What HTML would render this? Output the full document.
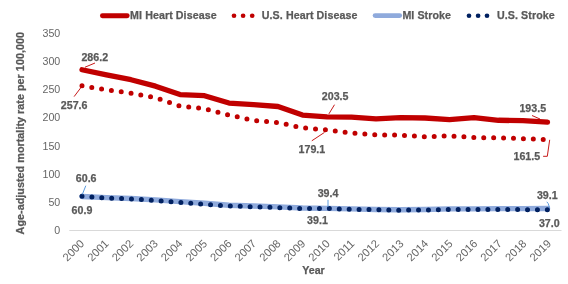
<!DOCTYPE html><html><head><meta charset="utf-8"><style>
html,body{margin:0;padding:0;background:#fff;width:568px;height:284px;overflow:hidden}
svg{display:block;font-family:"Liberation Sans",sans-serif;filter:blur(0.3px)}
text[font-weight="bold"]{stroke:#595959;stroke-width:0.25px}
</style></head><body>
<svg width="568" height="284" viewBox="0 0 568 284">
<rect width="568" height="284" fill="#fff"/>
<line x1="69.3" y1="230.5" x2="561.5" y2="230.5" stroke="#D9D9D9" stroke-width="1"/>
<text x="60.3" y="233.80" font-size="10.67" fill="#666666" text-anchor="end">0</text>
<text x="60.3" y="205.72" font-size="10.67" fill="#666666" text-anchor="end">50</text>
<text x="60.3" y="177.64" font-size="10.67" fill="#666666" text-anchor="end">100</text>
<text x="60.3" y="149.56" font-size="10.67" fill="#666666" text-anchor="end">150</text>
<text x="60.3" y="121.48" font-size="10.67" fill="#666666" text-anchor="end">200</text>
<text x="60.3" y="93.40" font-size="10.67" fill="#666666" text-anchor="end">250</text>
<text x="60.3" y="65.32" font-size="10.67" fill="#666666" text-anchor="end">300</text>
<text x="60.3" y="37.24" font-size="10.67" fill="#666666" text-anchor="end">350</text>
<text x="0" y="0" font-size="11.2" fill="#666666" text-anchor="end" transform="translate(84.90,244.30) rotate(-45)">2000</text>
<text x="0" y="0" font-size="11.2" fill="#666666" text-anchor="end" transform="translate(109.48,244.30) rotate(-45)">2001</text>
<text x="0" y="0" font-size="11.2" fill="#666666" text-anchor="end" transform="translate(134.05,244.30) rotate(-45)">2002</text>
<text x="0" y="0" font-size="11.2" fill="#666666" text-anchor="end" transform="translate(158.62,244.30) rotate(-45)">2003</text>
<text x="0" y="0" font-size="11.2" fill="#666666" text-anchor="end" transform="translate(183.20,244.30) rotate(-45)">2004</text>
<text x="0" y="0" font-size="11.2" fill="#666666" text-anchor="end" transform="translate(207.78,244.30) rotate(-45)">2005</text>
<text x="0" y="0" font-size="11.2" fill="#666666" text-anchor="end" transform="translate(232.35,244.30) rotate(-45)">2006</text>
<text x="0" y="0" font-size="11.2" fill="#666666" text-anchor="end" transform="translate(256.92,244.30) rotate(-45)">2007</text>
<text x="0" y="0" font-size="11.2" fill="#666666" text-anchor="end" transform="translate(281.50,244.30) rotate(-45)">2008</text>
<text x="0" y="0" font-size="11.2" fill="#666666" text-anchor="end" transform="translate(306.07,244.30) rotate(-45)">2009</text>
<text x="0" y="0" font-size="11.2" fill="#666666" text-anchor="end" transform="translate(330.65,244.30) rotate(-45)">2010</text>
<text x="0" y="0" font-size="11.2" fill="#666666" text-anchor="end" transform="translate(355.22,244.30) rotate(-45)">2011</text>
<text x="0" y="0" font-size="11.2" fill="#666666" text-anchor="end" transform="translate(379.80,244.30) rotate(-45)">2012</text>
<text x="0" y="0" font-size="11.2" fill="#666666" text-anchor="end" transform="translate(404.38,244.30) rotate(-45)">2013</text>
<text x="0" y="0" font-size="11.2" fill="#666666" text-anchor="end" transform="translate(428.95,244.30) rotate(-45)">2014</text>
<text x="0" y="0" font-size="11.2" fill="#666666" text-anchor="end" transform="translate(453.52,244.30) rotate(-45)">2015</text>
<text x="0" y="0" font-size="11.2" fill="#666666" text-anchor="end" transform="translate(478.10,244.30) rotate(-45)">2016</text>
<text x="0" y="0" font-size="11.2" fill="#666666" text-anchor="end" transform="translate(502.67,244.30) rotate(-45)">2017</text>
<text x="0" y="0" font-size="11.2" fill="#666666" text-anchor="end" transform="translate(527.25,244.30) rotate(-45)">2018</text>
<text x="0" y="0" font-size="11.2" fill="#666666" text-anchor="end" transform="translate(551.82,244.30) rotate(-45)">2019</text>
<text x="0" y="0" font-size="10.85" font-weight="bold" fill="#595959" text-anchor="middle" transform="translate(24.4,133.2) rotate(-90)">Age-adjusted mortality rate per 100,000</text>
<text x="313.5" y="273.8" font-size="10.67" font-weight="bold" fill="#595959" text-anchor="middle">Year</text>
<polyline points="82.00,69.77 106.50,74.94 131.00,79.71 155.50,86.17 180.00,94.59 204.50,95.72 229.00,103.02 253.50,104.70 278.00,106.50 302.50,115.09 327.00,116.78 351.50,117.06 376.00,118.85 400.50,117.62 425.00,118.01 449.50,119.70 474.00,117.62 498.50,120.26 523.00,120.71 547.50,122.11" fill="none" stroke="#C00000" stroke-width="5.3" stroke-linejoin="round" stroke-linecap="round"/>
<polyline points="82.00,85.83 106.50,89.82 131.00,93.13 155.50,97.79 180.00,106.05 204.50,108.75 229.00,115.09 253.50,120.37 278.00,122.62 302.50,127.84 327.00,129.92 351.50,132.95 376.00,134.75 400.50,135.14 425.00,136.71 449.50,135.87 474.00,137.56 498.50,137.84 523.00,138.62 547.50,139.80" fill="none" stroke="#C00000" stroke-width="5.0" stroke-linejoin="round" stroke-linecap="round" stroke-dasharray="0 9.92"/>
<polyline points="82.00,196.47 106.50,197.65 131.00,198.49 155.50,199.89 180.00,201.58 204.50,203.26 229.00,205.23 253.50,206.07 278.00,206.91 302.50,208.04 327.00,208.37 351.50,208.88 376.00,209.44 400.50,209.72 425.00,209.44 449.50,208.88 474.00,208.88 498.50,208.60 523.00,208.60 547.50,208.54" fill="none" stroke="#8FAADC" stroke-width="5.4" stroke-linejoin="round" stroke-linecap="round"/>
<polyline points="82.00,196.30 106.50,197.98 131.00,198.94 155.50,200.45 180.00,202.42 204.50,204.33 229.00,206.01 253.50,206.80 278.00,207.64 302.50,208.65 327.00,208.54 351.50,209.22 376.00,209.78 400.50,210.17 425.00,210.00 449.50,209.38 474.00,209.55 498.50,209.38 523.00,209.66 547.50,209.72" fill="none" stroke="#002060" stroke-width="5.0" stroke-linejoin="round" stroke-linecap="round" stroke-dasharray="0 9.91"/>
<g stroke="#C00000" stroke-width="0.9" fill="none">
<line x1="85" y1="67.2" x2="95" y2="63"/>
<line x1="74.1" y1="96.6" x2="81.5" y2="86.8"/>
<line x1="334.5" y1="104.7" x2="328.9" y2="113.9"/>
<line x1="311.8" y1="140.8" x2="324.5" y2="132.4"/>
<line x1="532" y1="115.5" x2="540" y2="119"/>
<polyline points="543.1,156.3 547.3,156.3 549.7,139.8"/>
</g>
<g stroke="#4A90D9" stroke-width="0.9" fill="none">
<line x1="85.8" y1="185.7" x2="82.3" y2="194.5"/>
<line x1="328" y1="199.8" x2="328" y2="206.9"/>
<polyline points="546.8,201.8 548.2,203.5 549.6,207.7"/>
</g>
<text x="81.40" y="60.90" font-size="10.67" font-weight="bold" fill="#595959">286.2</text>
<text x="60.80" y="109.00" font-size="10.67" font-weight="bold" fill="#595959">257.6</text>
<text x="321.80" y="99.70" font-size="10.67" font-weight="bold" fill="#595959">203.5</text>
<text x="298.60" y="152.60" font-size="10.67" font-weight="bold" fill="#595959">179.1</text>
<text x="519.40" y="112.00" font-size="10.67" font-weight="bold" fill="#595959">193.5</text>
<text x="513.50" y="159.90" font-size="10.67" font-weight="bold" fill="#595959">161.5</text>
<text x="75.80" y="182.00" font-size="10.67" font-weight="bold" fill="#595959">60.6</text>
<text x="71.60" y="213.50" font-size="10.67" font-weight="bold" fill="#595959">60.9</text>
<text x="317.70" y="196.70" font-size="10.67" font-weight="bold" fill="#595959">39.4</text>
<text x="307.10" y="224.00" font-size="10.67" font-weight="bold" fill="#595959">39.1</text>
<text x="536.90" y="199.30" font-size="10.67" font-weight="bold" fill="#595959">39.1</text>
<text x="538.90" y="226.60" font-size="10.67" font-weight="bold" fill="#595959">37.0</text>
<line x1="102.4" y1="15.7" x2="127.2" y2="15.7" stroke="#C00000" stroke-width="4.9" stroke-linecap="round"/>
<text x="130.1" y="19.2" font-size="10.67" font-weight="bold" letter-spacing="0.08" fill="#595959">MI Heart Disease</text>
<circle cx="234.0" cy="15.75" r="2.35" fill="#C00000"/>
<circle cx="243.1" cy="15.75" r="2.35" fill="#C00000"/>
<circle cx="252.2" cy="15.75" r="2.35" fill="#C00000"/>
<text x="261.8" y="19.2" font-size="10.67" font-weight="bold" letter-spacing="0.08" fill="#595959">U.S. Heart Disease</text>
<line x1="375.1" y1="15.55" x2="399.7" y2="15.55" stroke="#8FAADC" stroke-width="4.8" stroke-linecap="round"/>
<text x="402.4" y="19.2" font-size="10.67" font-weight="bold" letter-spacing="0.08" fill="#595959">MI Stroke</text>
<circle cx="469.0" cy="15.75" r="2.35" fill="#002060"/>
<circle cx="478.1" cy="15.75" r="2.35" fill="#002060"/>
<circle cx="487.0" cy="15.75" r="2.35" fill="#002060"/>
<text x="497" y="19.2" font-size="10.67" font-weight="bold" letter-spacing="0.08" fill="#595959">U.S. Stroke</text>
</svg></body></html>
